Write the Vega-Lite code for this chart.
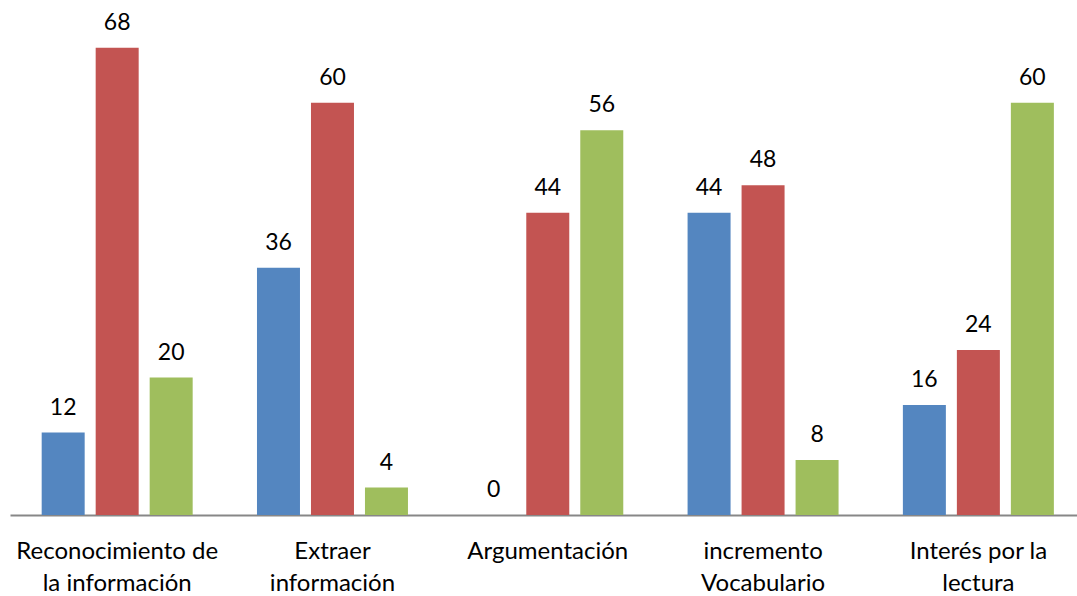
{
  "$schema": "https://vega.github.io/schema/vega-lite/v6.json",
  "width": 1067,
  "height": 481,
  "autosize": {"type": "none"},
  "padding": {"left": 10, "top": 34, "right": 0, "bottom": 81},
  "background": "white",
  "config": {"view": {"stroke": null}, "font": "Lato"},
  "data": {
    "values": [
      {"categoria": "Reconocimiento de la información", "serie": "Serie 1", "valor": 12},
      {"categoria": "Reconocimiento de la información", "serie": "Serie 2", "valor": 68},
      {"categoria": "Reconocimiento de la información", "serie": "Serie 3", "valor": 20},
      {"categoria": "Extraer información", "serie": "Serie 1", "valor": 36},
      {"categoria": "Extraer información", "serie": "Serie 2", "valor": 60},
      {"categoria": "Extraer información", "serie": "Serie 3", "valor": 4},
      {"categoria": "Argumentación", "serie": "Serie 1", "valor": 0},
      {"categoria": "Argumentación", "serie": "Serie 2", "valor": 44},
      {"categoria": "Argumentación", "serie": "Serie 3", "valor": 56},
      {"categoria": "incremento Vocabulario", "serie": "Serie 1", "valor": 44},
      {"categoria": "incremento Vocabulario", "serie": "Serie 2", "valor": 48},
      {"categoria": "incremento Vocabulario", "serie": "Serie 3", "valor": 8},
      {"categoria": "Interés por la lectura", "serie": "Serie 1", "valor": 16},
      {"categoria": "Interés por la lectura", "serie": "Serie 2", "valor": 24},
      {"categoria": "Interés por la lectura", "serie": "Serie 3", "valor": 60}
    ]
  },
  "encoding": {
    "x": {
      "field": "categoria",
      "type": "nominal",
      "sort": null,
      "scale": {"paddingInner": 0.2987, "paddingOuter": 0.1273, "align": 0.578},
      "axis": {
        "title": null,
        "labelAngle": 0,
        "ticks": false,
        "tickSize": 0,
        "domain": true,
        "domainColor": "#878787",
        "domainWidth": 2,
        "labelFont": "Lato",
        "labelFontSize": 24,
        "labelColor": "#000000",
        "labelPadding": 24,
        "labelBaseline": "top",
        "labelLineHeight": 32,
        "labelLimit": 400,
        "labelExpr": "datum.value == 'Reconocimiento de la información' ? ['Reconocimiento de', 'la información'] : datum.value == 'Extraer información' ? ['Extraer', 'información'] : datum.value == 'incremento Vocabulario' ? ['incremento', 'Vocabulario'] : datum.value == 'Interés por la lectura' ? ['Interés por la', 'lectura'] : datum.value"
      }
    },
    "xOffset": {
      "field": "serie",
      "type": "nominal",
      "sort": null,
      "scale": {"paddingInner": 0.2037, "paddingOuter": 0}
    },
    "y": {
      "field": "valor",
      "type": "quantitative",
      "scale": {"domain": [0, 70]},
      "axis": null
    }
  },
  "layer": [
    {
      "mark": {"type": "bar"},
      "encoding": {
        "color": {
          "field": "serie",
          "type": "nominal",
          "sort": null,
          "scale": {"range": ["#5486C0", "#C35452", "#9FBE5D"]},
          "legend": null
        }
      }
    },
    {
      "mark": {"type": "text", "baseline": "alphabetic", "dy": -18, "fontSize": 23, "font": "Lato", "color": "#000000"},
      "encoding": {"text": {"field": "valor", "type": "quantitative"}}
    }
  ]
}
